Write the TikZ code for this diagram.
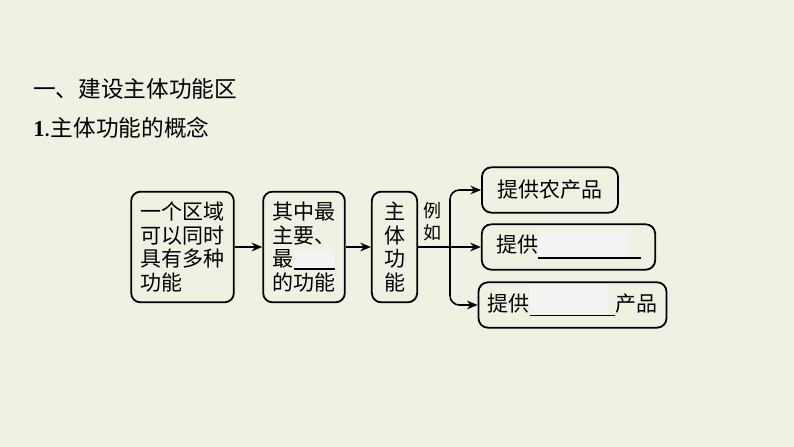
\documentclass[tikz,border=0pt]{standalone}
\usepackage{fontspec}
\setmainfont{Liberation Serif}
\newfontfamily\cjk{Noto Sans CJK SC}
\usetikzlibrary{arrows.meta, positioning}
\usepackage{xcolor}
\definecolor{bgc}{RGB}{238,242,227}
\definecolor{patch}{RGB}{243,244,241}
% underline blank: #1 line width, #2 patch width, #3 depth, #4 patch height
\newcommand\blankfill[4]{\rlap{\smash{\color{patch}\rule[-#3]{#2}{#4}}}\rule[-#3]{#1}{1pt}}
\tikzset{
  box/.style={draw, line width=1.35pt, rounded corners=7pt, inner xsep=7pt, inner ysep=0pt,
    font=\cjk\fontsize{15.75}{17.6}\selectfont},
  tallbox/.style={box, minimum height=83pt, align=left},
  widebox/.style={box, minimum height=34pt, align=center},
  arr/.style={-{Stealth[length=8pt,width=6.5pt]}, line width=1.2pt},
  headline/.style={anchor=west, inner sep=0pt, font=\cjk\fontsize{17}{20}\selectfont},
}

\begin{document}
\begin{tikzpicture}[x=0.75pt, y=-0.75pt]
  \fill[bgc] (0,0) rectangle (794,447);
  \useasboundingbox (0,0) rectangle (794,447);

  \node[headline] (t1) at (33,89) {一、建设主体功能区};
  \node[headline] (t2) at (33,128) {{\rmfamily\bfseries 1}.主体功能的概念};

  \node[tallbox, text width=63pt] (b1) at (182.5,247)
    {一个区域\\可以同时\\具有多种\\功能};
  \node[tallbox, text width=47.25pt] (b2) at (304,247)
    {其中最\\主要、\\最\blankfill{31pt}{30pt}{2.2pt}{15pt}\\的功能};
  \node[tallbox, text width=15.75pt, minimum width=34pt, align=center] (b3) at (394.5,247)
    {主\\体\\功\\能};

  \node[widebox, minimum width=102pt] (b4) at (550,190) {提供农产品};
  \node[widebox, minimum width=130pt] (b5) at (568.5,247)
    {提供\blankfill{77pt}{67.5pt}{4.5pt}{21pt}};
  \node[widebox, minimum width=136pt] (b6) at (572.5,305)
    {提供\blankfill{64pt}{58pt}{3.7pt}{24pt}产品};

  \node[font=\cjk\fontsize{13.5}{16.5}\selectfont, align=center, inner sep=0pt] (eg) at (432,222) {例\\如};

  % connectors
  \coordinate (br) at (450,247);
  \draw[arr] (b1) -- (b2);
  \draw[arr] (b2) -- (b3);
  \draw[arr] (b3) -- (b5);
  \draw[arr, rounded corners=7pt] (br) |- (b4.west);
  \draw[arr, rounded corners=7pt] (br) |- (b6.west);
\end{tikzpicture}
\end{document}
